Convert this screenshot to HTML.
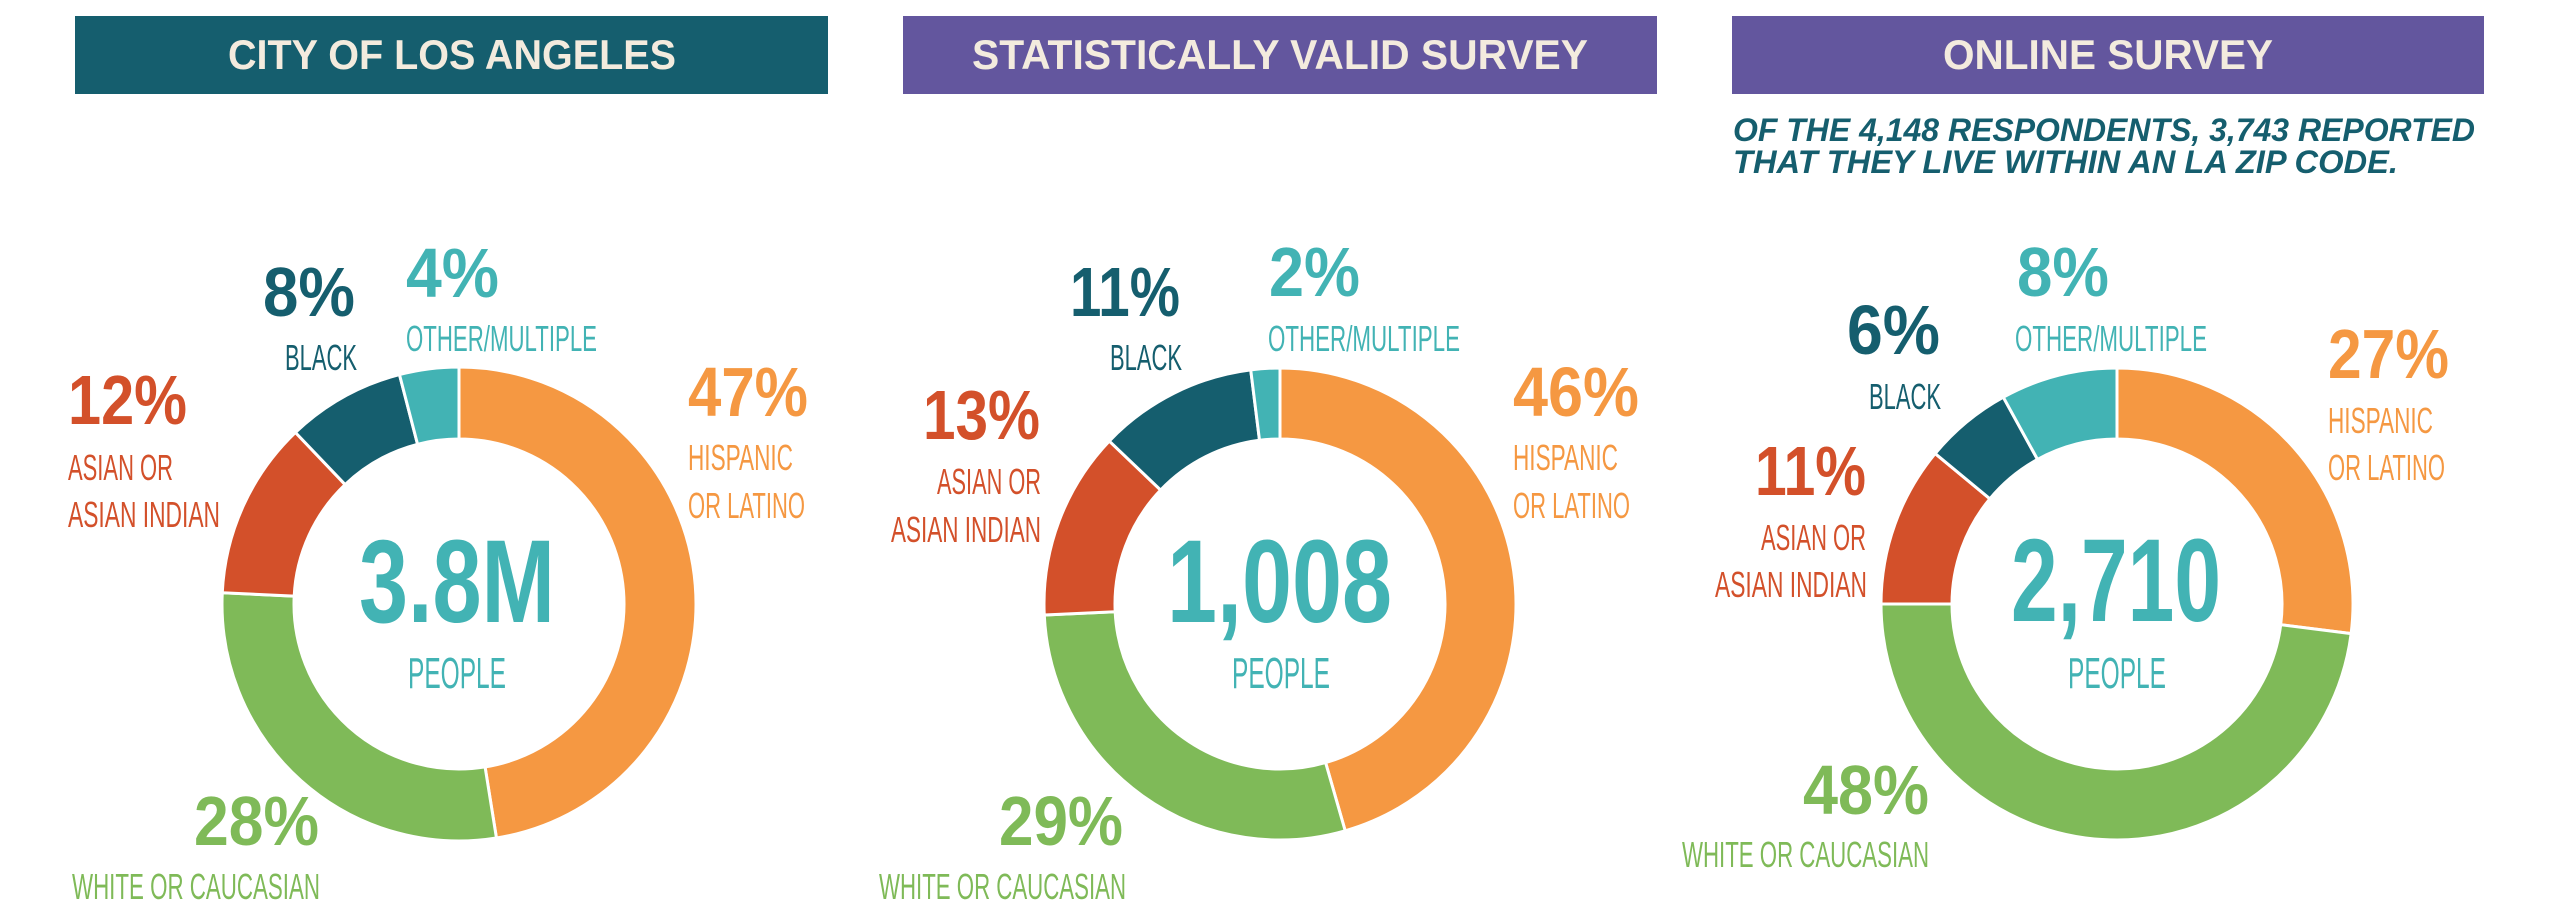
<!DOCTYPE html>
<html><head><meta charset="utf-8">
<style>
html,body{margin:0;padding:0;background:#fff;}
svg{display:block;}
text{font-family:"Liberation Sans",sans-serif;}
.pct{font-weight:bold;font-size:70px;}
.lbl{font-size:36px;}
.big{font-weight:bold;font-size:118px;fill:#42b3b4;}
.ppl{font-size:44px;fill:#42b3b4;}
.hdr{font-weight:bold;font-size:42px;fill:#f3ebde;}
.sub{font-weight:bold;font-style:italic;font-size:32px;fill:#155e6e;}
</style></head>
<body>
<svg id="chart" width="2560" height="918" viewBox="0 0 2560 918" xmlns="http://www.w3.org/2000/svg">
  <rect x="75" y="16" width="753" height="78" fill="#155e6e"/>
  <text class="hdr" x="228" y="69" textLength="448" lengthAdjust="spacingAndGlyphs">CITY OF LOS ANGELES</text>
  <rect x="903" y="16" width="754" height="78" fill="#63569e"/>
  <text class="hdr" x="972" y="69" textLength="616" lengthAdjust="spacingAndGlyphs">STATISTICALLY VALID SURVEY</text>
  <rect x="1732" y="16" width="752" height="78" fill="#63569e"/>
  <text class="hdr" x="1943" y="69" textLength="330" lengthAdjust="spacingAndGlyphs">ONLINE SURVEY</text>
  <text class="sub" x="1733" y="141" textLength="742" lengthAdjust="spacingAndGlyphs">OF THE 4,148 RESPONDENTS, 3,743 REPORTED</text>
  <text class="sub" x="1733" y="173" textLength="665" lengthAdjust="spacingAndGlyphs">THAT THEY LIVE WITHIN AN LA ZIP CODE.</text>

  <g id="donuts"></g>

  <!-- Panel 1 labels -->
  <g>
    <text class="pct" fill="#155e6e" x="263" y="316" textLength="92" lengthAdjust="spacingAndGlyphs">8%</text>
    <text class="lbl" fill="#155e6e" x="285" y="370" textLength="72" lengthAdjust="spacingAndGlyphs">BLACK</text>
    <text class="pct" fill="#42b3b4" x="406" y="297" textLength="93" lengthAdjust="spacingAndGlyphs">4%</text>
    <text class="lbl" fill="#42b3b4" x="406" y="351" textLength="191" lengthAdjust="spacingAndGlyphs">OTHER/MULTIPLE</text>
    <text class="pct" fill="#f59842" x="688" y="416" textLength="120" lengthAdjust="spacingAndGlyphs">47%</text>
    <text class="lbl" fill="#f59842" x="688" y="470" textLength="105" lengthAdjust="spacingAndGlyphs">HISPANIC</text>
    <text class="lbl" fill="#f59842" x="688" y="518" textLength="117" lengthAdjust="spacingAndGlyphs">OR LATINO</text>
    <text class="pct" fill="#d3502a" x="68" y="424" textLength="119" lengthAdjust="spacingAndGlyphs">12%</text>
    <text class="lbl" fill="#d3502a" x="68" y="480" textLength="105" lengthAdjust="spacingAndGlyphs">ASIAN OR</text>
    <text class="lbl" fill="#d3502a" x="68" y="527" textLength="152" lengthAdjust="spacingAndGlyphs">ASIAN INDIAN</text>
    <text class="big" x="359" y="622" textLength="196" lengthAdjust="spacingAndGlyphs">3.8M</text>
    <text class="ppl" x="408" y="688" textLength="98" lengthAdjust="spacingAndGlyphs">PEOPLE</text>
    <text class="pct" fill="#7fba58" x="194" y="845" textLength="125" lengthAdjust="spacingAndGlyphs">28%</text>
    <text class="lbl" fill="#7fba58" x="72" y="899" textLength="248" lengthAdjust="spacingAndGlyphs">WHITE OR CAUCASIAN</text>
  </g>

  <!-- Panel 2 labels -->
  <g>
    <text class="pct" fill="#155e6e" x="1070" y="316" textLength="110" lengthAdjust="spacingAndGlyphs">11%</text>
    <text class="lbl" fill="#155e6e" x="1110" y="370" textLength="72" lengthAdjust="spacingAndGlyphs">BLACK</text>
    <text class="pct" fill="#42b3b4" x="1269" y="296" textLength="91" lengthAdjust="spacingAndGlyphs">2%</text>
    <text class="lbl" fill="#42b3b4" x="1268" y="351" textLength="192" lengthAdjust="spacingAndGlyphs">OTHER/MULTIPLE</text>
    <text class="pct" fill="#f59842" x="1513" y="416" textLength="126" lengthAdjust="spacingAndGlyphs">46%</text>
    <text class="lbl" fill="#f59842" x="1513" y="470" textLength="105" lengthAdjust="spacingAndGlyphs">HISPANIC</text>
    <text class="lbl" fill="#f59842" x="1513" y="518" textLength="117" lengthAdjust="spacingAndGlyphs">OR LATINO</text>
    <text class="pct" fill="#d3502a" x="923" y="439" textLength="117" lengthAdjust="spacingAndGlyphs">13%</text>
    <text class="lbl" fill="#d3502a" x="937" y="494" textLength="104" lengthAdjust="spacingAndGlyphs">ASIAN OR</text>
    <text class="lbl" fill="#d3502a" x="891" y="542" textLength="150" lengthAdjust="spacingAndGlyphs">ASIAN INDIAN</text>
    <text class="big" x="1167" y="622" textLength="225" lengthAdjust="spacingAndGlyphs">1,008</text>
    <text class="ppl" x="1232" y="688" textLength="98" lengthAdjust="spacingAndGlyphs">PEOPLE</text>
    <text class="pct" fill="#7fba58" x="999" y="845" textLength="124" lengthAdjust="spacingAndGlyphs">29%</text>
    <text class="lbl" fill="#7fba58" x="879" y="899" textLength="247" lengthAdjust="spacingAndGlyphs">WHITE OR CAUCASIAN</text>
  </g>

  <!-- Panel 3 labels -->
  <g>
    <text class="pct" fill="#155e6e" x="1847" y="354" textLength="93" lengthAdjust="spacingAndGlyphs">6%</text>
    <text class="lbl" fill="#155e6e" x="1869" y="409" textLength="72" lengthAdjust="spacingAndGlyphs">BLACK</text>
    <text class="pct" fill="#42b3b4" x="2017" y="296" textLength="92" lengthAdjust="spacingAndGlyphs">8%</text>
    <text class="lbl" fill="#42b3b4" x="2015" y="351" textLength="192" lengthAdjust="spacingAndGlyphs">OTHER/MULTIPLE</text>
    <text class="pct" fill="#f59842" x="2328" y="378" textLength="121" lengthAdjust="spacingAndGlyphs">27%</text>
    <text class="lbl" fill="#f59842" x="2328" y="433" textLength="105" lengthAdjust="spacingAndGlyphs">HISPANIC</text>
    <text class="lbl" fill="#f59842" x="2328" y="480" textLength="117" lengthAdjust="spacingAndGlyphs">OR LATINO</text>
    <text class="pct" fill="#d3502a" x="1755" y="495" textLength="111" lengthAdjust="spacingAndGlyphs">11%</text>
    <text class="lbl" fill="#d3502a" x="1761" y="550" textLength="105" lengthAdjust="spacingAndGlyphs">ASIAN OR</text>
    <text class="lbl" fill="#d3502a" x="1715" y="597" textLength="152" lengthAdjust="spacingAndGlyphs">ASIAN INDIAN</text>
    <text class="big" x="2011" y="621" textLength="210" lengthAdjust="spacingAndGlyphs">2,710</text>
    <text class="ppl" x="2068" y="688" textLength="98" lengthAdjust="spacingAndGlyphs">PEOPLE</text>
    <text class="pct" fill="#7fba58" x="1803" y="814" textLength="126" lengthAdjust="spacingAndGlyphs">48%</text>
    <text class="lbl" fill="#7fba58" x="1682" y="867" textLength="247" lengthAdjust="spacingAndGlyphs">WHITE OR CAUCASIAN</text>
  </g>
</svg>
<script>
// Category order: clockwise from 12 o'clock
const categories = ["hispanic", "white", "asian", "black", "other"];
const colors = ["#f59842", "#7fba58", "#d3502a", "#155e6e", "#42b3b4"];
const cityValues = [47, 28, 12, 8, 4];
const svsValues = [46, 29, 13, 11, 2];
const onlineValues = [27, 48, 11, 6, 8];
const panelNames = ["city", "svs", "online"];

const NS = "http://www.w3.org/2000/svg";
const layout = [
  {cx: 459, cy: 604, R: 237, r: 165},
  {cx: 1280, cy: 604, R: 236, r: 165},
  {cx: 2117, cy: 604, R: 236, r: 165}
];
function angleOf(frac) { return frac * 2 * Math.PI - Math.PI / 2; }
function pt(cx, cy, rad, a) { return [cx + rad * Math.cos(a), cy + rad * Math.sin(a)]; }
function arcPath(g, a0, a1) {
  const large = (a1 - a0) > Math.PI ? 1 : 0;
  const p0 = pt(g.cx, g.cy, g.R, a0), p1 = pt(g.cx, g.cy, g.R, a1);
  const q1 = pt(g.cx, g.cy, g.r, a1), q0 = pt(g.cx, g.cy, g.r, a0);
  return `M${p0[0]},${p0[1]} A${g.R},${g.R} 0 ${large} 1 ${p1[0]},${p1[1]} L${q1[0]},${q1[1]} A${g.r},${g.r} 0 ${large} 0 ${q0[0]},${q0[1]} Z`;
}
const container = document.getElementById("donuts");
[cityValues, svsValues, onlineValues].forEach((vals, pi) => {
  const g = layout[pi];
  const total = vals.reduce((s, v) => s + v, 0);
  let acc = 0;
  vals.forEach((v, i) => {
    const a0 = angleOf(acc / total);
    acc += v;
    const a1 = angleOf(acc / total);
    const p = document.createElementNS(NS, "path");
    p.setAttribute("d", arcPath(g, a0, a1));
    p.setAttribute("fill", colors[i]);
    p.setAttribute("stroke", "#ffffff");
    p.setAttribute("stroke-width", "3");
    
    
    container.appendChild(p);
  });
});
</script>
</body></html>
